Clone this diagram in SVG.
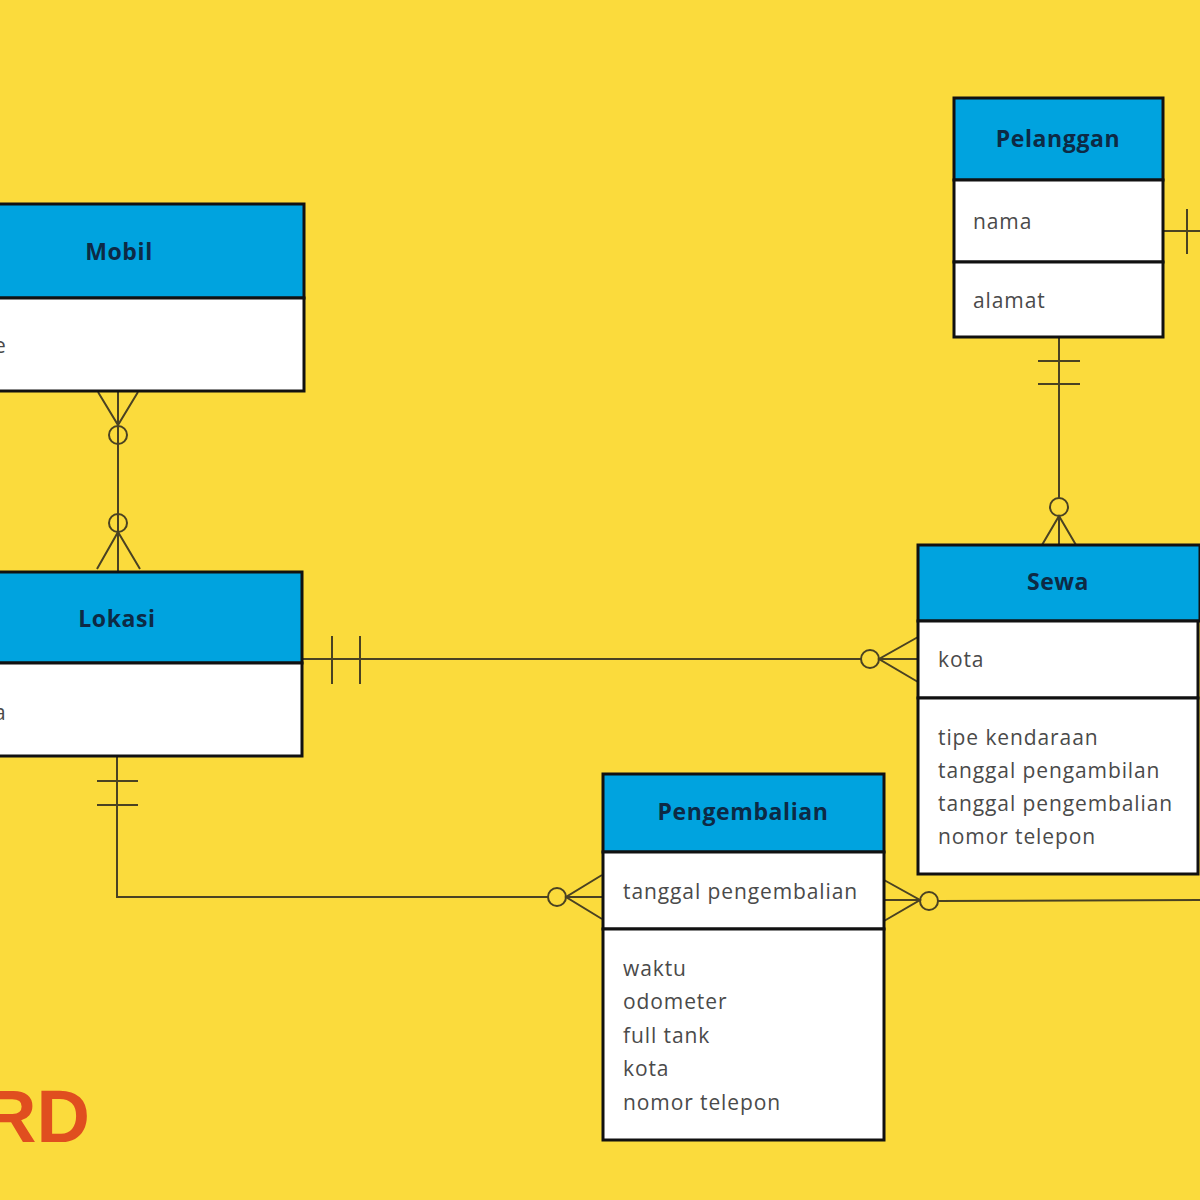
<svg xmlns="http://www.w3.org/2000/svg" width="1200" height="1200" viewBox="0 0 1200 1200">
<style>
.bg{fill:#FBDB3C}
.hd{fill:#00A3DF;stroke:#111;stroke-width:3}
.bd{fill:#FFFFFF;stroke:#111;stroke-width:3}
.t{font-family:"Open Sans","Noto Sans",sans-serif;font-weight:700;font-size:23px;letter-spacing:0.6px;fill:#0d2a45;text-anchor:middle}
.a{font-family:"Open Sans","Noto Sans",sans-serif;font-size:21px;letter-spacing:0.9px;fill:#4a4a4a}
.c{fill:none;stroke:#4a4222;stroke-width:2}
.logo{font-family:"Liberation Sans",sans-serif;font-weight:700;font-size:74px;fill:#E04E1F}
</style>
<rect class="bg" x="0" y="0" width="1200" height="1200"/>

<g id="connectors">
  <!-- Mobil - Lokasi -->
  <line class="c" x1="118" y1="392" x2="118" y2="571"/>
  <polyline class="c" points="98,392 118,425 138,392"/>
  <circle class="c" cx="118" cy="435" r="9" fill="#FBDB3C"/>
  <circle class="c" cx="118" cy="523" r="9" fill="#FBDB3C"/>
  <polyline class="c" points="97,569 118,532 140,569"/>
  <!-- Lokasi - Sewa -->
  <line class="c" x1="303" y1="659" x2="861" y2="659"/>
  <line class="c" x1="879" y1="659" x2="918" y2="659"/>
  <line class="c" x1="332" y1="636" x2="332" y2="684"/>
  <line class="c" x1="360" y1="636" x2="360" y2="684"/>
  <circle class="c" cx="870" cy="659" r="9"/>
  <polyline class="c" points="918,637 879,659 918,682"/>
  <!-- Lokasi - Pengembalian -->
  <polyline class="c" points="117,757 117,897 548,897"/>
  <line class="c" x1="97" y1="781" x2="138" y2="781"/>
  <line class="c" x1="97" y1="805" x2="138" y2="805"/>
  <circle class="c" cx="557" cy="897" r="9"/>
  <line class="c" x1="566" y1="897" x2="602" y2="897"/>
  <polyline class="c" points="602,875 566,897 602,919"/>
  <!-- Pengembalian - right -->
  <line class="c" x1="884" y1="900" x2="920" y2="900"/>
  <polyline class="c" points="884,880 920,900 884,921"/>
  <circle class="c" cx="929" cy="901" r="9"/>
  <line class="c" x1="938" y1="901" x2="1200" y2="900"/>
  <!-- Pelanggan - Sewa -->
  <line class="c" x1="1059" y1="337" x2="1059" y2="498"/>
  <line class="c" x1="1038" y1="361" x2="1080" y2="361"/>
  <line class="c" x1="1038" y1="384" x2="1080" y2="384"/>
  <circle class="c" cx="1059" cy="507" r="9"/>
  <line class="c" x1="1059" y1="516" x2="1059" y2="545"/>
  <polyline class="c" points="1042,545 1059,516 1076,545"/>
  <!-- Pelanggan - right -->
  <line class="c" x1="1163" y1="231" x2="1200" y2="231"/>
  <line class="c" x1="1187" y1="209" x2="1187" y2="254"/>
</g>

<g id="mobil">
  <rect class="hd" x="-65" y="204" width="369" height="94"/>
  <rect class="bd" x="-65" y="298" width="369" height="93"/>
  <text class="t" x="119" y="260">Mobil</text>
  <text class="a" x="-6" y="353">e</text>
</g>

<g id="lokasi">
  <rect class="hd" x="-70" y="572" width="372" height="91"/>
  <rect class="bd" x="-70" y="663" width="372" height="93"/>
  <text class="t" x="117" y="627">Lokasi</text>
  <text class="a" x="-6" y="720">a</text>
</g>

<g id="pelanggan">
  <rect class="hd" x="954" y="98" width="209" height="82"/>
  <rect class="bd" x="954" y="180" width="209" height="82"/>
  <rect class="bd" x="954" y="262" width="209" height="75"/>
  <text class="t" x="1058" y="147">Pelanggan</text>
  <text class="a" x="973" y="229">nama</text>
  <text class="a" x="973" y="308">alamat</text>
</g>

<g id="sewa">
  <rect class="hd" x="918" y="545" width="282" height="76"/>
  <rect class="bd" x="918" y="621" width="280" height="77"/>
  <rect class="bd" x="918" y="698" width="280" height="176"/>
  <text class="t" x="1058" y="590">Sewa</text>
  <text class="a" x="938" y="667">kota</text>
  <text class="a" x="938" y="745">tipe kendaraan</text>
  <text class="a" x="938" y="778">tanggal pengambilan</text>
  <text class="a" x="938" y="811">tanggal pengembalian</text>
  <text class="a" x="938" y="844">nomor telepon</text>
</g>

<g id="pengembalian">
  <rect class="hd" x="603" y="774" width="281" height="78"/>
  <rect class="bd" x="603" y="852" width="281" height="77"/>
  <rect class="bd" x="603" y="929" width="281" height="211"/>
  <text class="t" x="743" y="820">Pengembalian</text>
  <text class="a" x="623" y="899">tanggal pengembalian</text>
  <text class="a" x="623" y="976">waktu</text>
  <text class="a" x="623" y="1009">odometer</text>
  <text class="a" x="623" y="1043">full tank</text>
  <text class="a" x="623" y="1076">kota</text>
  <text class="a" x="623" y="1110">nomor telepon</text>
</g>

<text class="logo" x="90" y="1142" text-anchor="end">RD</text>
</svg>
